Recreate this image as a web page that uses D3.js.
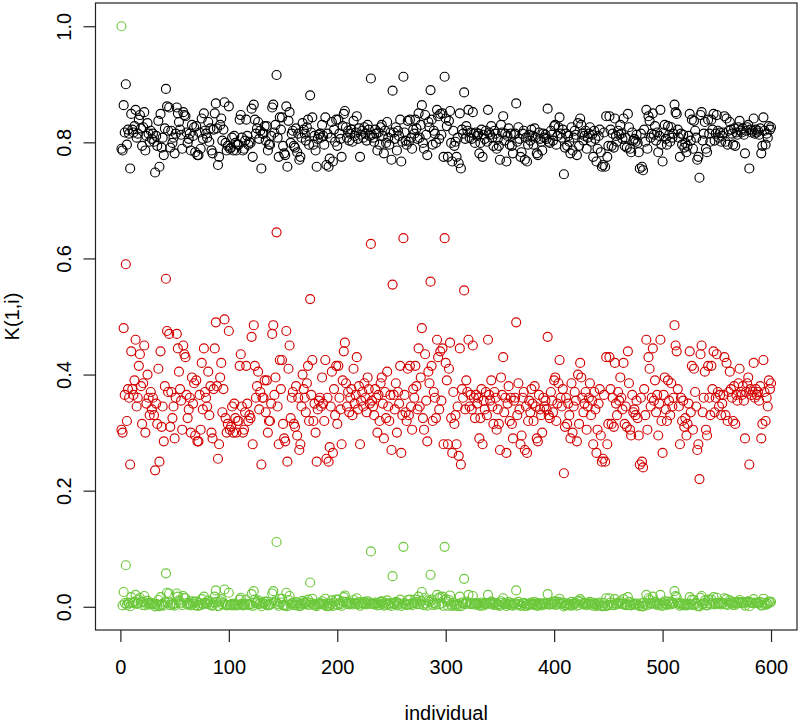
<!DOCTYPE html>
<html><head><meta charset="utf-8">
<script src="https://cdn.jsdelivr.net/npm/d3@7"></script>
<style>
html,body{margin:0;padding:0;background:#fff;}
svg text{font-family:"Liberation Sans",Arial,Helvetica,sans-serif;}
</style></head>
<body>
<svg id="chart" width="799" height="725"></svg>
<script>
// ---- data ----
const xTickLabels = [0, 100, 200, 300, 400, 500, 600];
const yTickLabels = [0.0, 0.2, 0.4, 0.6, 0.8, 1.0];
const xTitle = "individual";
const yTitle = "K(1,i)";

const kBlack = [
0.789,0.786,0.864,0.817,0.900,0.796,0.822,0.815,0.755,0.849,
0.822,0.817,0.828,0.856,0.808,0.815,0.839,0.847,0.824,0.794,
0.826,0.852,0.786,0.811,0.833,0.815,0.801,0.820,0.806,0.815,
0.801,0.748,0.811,0.794,0.837,0.758,0.849,0.791,0.808,0.778,
0.824,0.892,0.862,0.820,0.860,0.791,0.820,0.799,0.808,0.781,
0.815,0.860,0.850,0.835,0.822,0.813,0.789,0.852,0.847,0.845,
0.817,0.799,0.806,0.815,0.786,0.830,0.811,0.826,0.783,0.828,
0.778,0.778,0.817,0.789,0.841,0.806,0.850,0.820,0.815,0.808,
0.835,0.801,0.824,0.786,0.781,0.822,0.850,0.867,0.824,0.761,
0.775,0.830,0.841,0.803,0.822,0.869,0.799,0.786,0.794,0.862,
0.789,0.791,0.808,0.786,0.811,0.799,0.786,0.796,0.796,0.839,
0.847,0.808,0.786,0.789,0.803,0.839,0.811,0.796,0.801,0.799,
0.858,0.775,0.865,0.839,0.815,0.824,0.835,0.806,0.820,0.755,
0.815,0.815,0.828,0.803,0.828,0.786,0.796,0.796,0.811,0.860,
0.865,0.817,0.830,0.916,0.808,0.775,0.843,0.822,0.843,0.794,
0.781,0.778,0.862,0.758,0.837,0.852,0.799,0.815,0.820,0.794,
0.791,0.824,0.783,0.815,0.770,0.775,0.808,0.833,0.822,0.815,
0.803,0.826,0.839,0.796,0.881,0.817,0.843,0.796,0.811,0.786,
0.758,0.806,0.813,0.815,0.808,0.830,0.811,0.796,0.843,0.761,
0.815,0.758,0.772,0.808,0.835,0.767,0.822,0.801,0.839,0.794,
0.839,0.815,0.806,0.775,0.828,0.849,0.854,0.826,0.808,0.820,
0.803,0.815,0.822,0.801,0.837,0.811,0.817,0.845,0.806,0.824,
0.775,0.813,0.820,0.808,0.826,0.815,0.803,0.830,0.822,0.811,
0.910,0.813,0.808,0.801,0.822,0.815,0.786,0.817,0.796,0.826,
0.830,0.811,0.781,0.820,0.799,0.835,0.808,0.796,0.817,0.770,
0.889,0.817,0.806,0.826,0.786,0.820,0.811,0.839,0.767,0.801,
0.913,0.817,0.803,0.796,0.837,0.801,0.839,0.808,0.789,0.822,
0.815,0.839,0.824,0.806,0.850,0.808,0.830,0.864,0.799,0.789,
0.847,0.813,0.778,0.835,0.826,0.890,0.839,0.796,0.820,0.815,
0.799,0.856,0.845,0.806,0.849,0.813,0.850,0.775,0.913,0.841,
0.828,0.775,0.837,0.854,0.799,0.767,0.820,0.794,0.801,0.775,
0.808,0.764,0.850,0.755,0.822,0.815,0.886,0.806,0.828,0.820,
0.856,0.808,0.817,0.806,0.852,0.815,0.799,0.817,0.811,0.815,
0.781,0.799,0.822,0.775,0.813,0.806,0.820,0.801,0.856,0.817,
0.813,0.828,0.808,0.794,0.820,0.815,0.789,0.806,0.794,0.770,
0.830,0.817,0.845,0.803,0.815,0.767,0.811,0.824,0.796,0.815,
0.794,0.781,0.813,0.815,0.867,0.801,0.826,0.806,0.775,0.783,
0.815,0.820,0.770,0.808,0.767,0.796,0.813,0.803,0.822,0.811,
0.796,0.824,0.808,0.781,0.778,0.817,0.806,0.801,0.786,0.815,
0.808,0.813,0.806,0.858,0.801,0.799,0.820,0.813,0.803,0.828,
0.830,0.796,0.811,0.826,0.843,0.815,0.808,0.822,0.745,0.791,
0.815,0.794,0.811,0.801,0.781,0.826,0.786,0.808,0.820,0.813,
0.778,0.833,0.794,0.841,0.830,0.815,0.803,0.811,0.820,0.789,
0.808,0.815,0.826,0.801,0.813,0.775,0.820,0.806,0.767,0.789,
0.811,0.822,0.783,0.758,0.761,0.817,0.758,0.845,0.775,0.794,
0.845,0.822,0.794,0.815,0.791,0.841,0.811,0.801,0.820,0.813,
0.830,0.815,0.806,0.841,0.794,0.808,0.791,0.849,0.826,0.789,
0.783,0.817,0.803,0.806,0.801,0.813,0.799,0.783,0.755,0.815,
0.758,0.752,0.822,0.801,0.856,0.789,0.845,0.837,0.808,0.815,
0.850,0.813,0.828,0.803,0.817,0.783,0.811,0.856,0.796,0.767,
0.817,0.830,0.806,0.796,0.828,0.813,0.801,0.826,0.808,0.815,
0.865,0.852,0.849,0.822,0.808,0.775,0.815,0.796,0.813,0.791,
0.799,0.783,0.794,0.811,0.849,0.803,0.839,0.789,0.837,0.820,
0.808,0.770,0.775,0.739,0.847,0.852,0.803,0.815,0.835,0.789,
0.783,0.839,0.815,0.801,0.839,0.822,0.849,0.803,0.815,0.847,
0.820,0.808,0.817,0.801,0.811,0.817,0.845,0.801,0.841,0.796,
0.820,0.835,0.822,0.815,0.796,0.824,0.794,0.817,0.813,0.826,
0.837,0.820,0.817,0.824,0.813,0.781,0.820,0.826,0.830,0.755,
0.822,0.817,0.820,0.841,0.815,0.822,0.817,0.820,0.813,0.824,
0.781,0.794,0.843,0.820,0.796,0.815,0.808,0.828,0.822,0.826
];

const kRed = [
0.305,0.300,0.480,0.365,0.590,0.320,0.375,0.360,0.245,0.440,
0.375,0.365,0.390,0.460,0.345,0.360,0.415,0.435,0.380,0.315,
0.385,0.450,0.300,0.350,0.400,0.360,0.330,0.370,0.340,0.360,
0.330,0.235,0.350,0.315,0.410,0.250,0.440,0.310,0.345,0.285,
0.380,0.565,0.475,0.370,0.470,0.310,0.370,0.325,0.345,0.290,
0.360,0.470,0.445,0.405,0.375,0.355,0.305,0.450,0.435,0.430,
0.365,0.325,0.340,0.360,0.300,0.395,0.350,0.385,0.295,0.390,
0.285,0.285,0.365,0.305,0.420,0.340,0.445,0.370,0.360,0.345,
0.405,0.330,0.380,0.300,0.290,0.375,0.445,0.490,0.380,0.255,
0.280,0.395,0.420,0.335,0.375,0.495,0.325,0.300,0.315,0.475,
0.305,0.310,0.345,0.300,0.350,0.325,0.300,0.320,0.320,0.415,
0.435,0.345,0.300,0.305,0.335,0.415,0.350,0.320,0.330,0.325,
0.465,0.280,0.485,0.415,0.360,0.380,0.405,0.340,0.370,0.245,
0.360,0.360,0.390,0.335,0.390,0.300,0.320,0.320,0.350,0.470,
0.485,0.365,0.395,0.645,0.345,0.280,0.425,0.375,0.425,0.315,
0.290,0.285,0.475,0.250,0.410,0.450,0.325,0.360,0.370,0.315,
0.310,0.380,0.295,0.360,0.270,0.280,0.345,0.400,0.375,0.360,
0.335,0.385,0.415,0.320,0.530,0.365,0.425,0.320,0.350,0.300,
0.250,0.340,0.355,0.360,0.345,0.395,0.350,0.320,0.425,0.255,
0.360,0.250,0.275,0.345,0.405,0.265,0.375,0.330,0.415,0.315,
0.415,0.360,0.340,0.280,0.390,0.440,0.455,0.385,0.345,0.370,
0.335,0.360,0.375,0.330,0.410,0.350,0.365,0.430,0.340,0.380,
0.280,0.355,0.370,0.345,0.385,0.360,0.335,0.395,0.375,0.350,
0.625,0.355,0.345,0.330,0.375,0.360,0.300,0.365,0.320,0.385,
0.395,0.350,0.290,0.370,0.325,0.405,0.345,0.320,0.365,0.270,
0.555,0.365,0.340,0.385,0.300,0.370,0.350,0.415,0.265,0.330,
0.635,0.365,0.335,0.320,0.410,0.330,0.415,0.345,0.305,0.375,
0.360,0.415,0.380,0.340,0.445,0.345,0.395,0.480,0.325,0.305,
0.435,0.355,0.285,0.405,0.385,0.560,0.415,0.320,0.370,0.360,
0.325,0.460,0.430,0.340,0.440,0.355,0.445,0.280,0.635,0.420,
0.390,0.280,0.410,0.455,0.325,0.265,0.370,0.315,0.330,0.280,
0.345,0.260,0.445,0.245,0.375,0.360,0.545,0.340,0.390,0.370,
0.460,0.345,0.365,0.340,0.450,0.360,0.325,0.365,0.350,0.360,
0.290,0.325,0.375,0.280,0.355,0.340,0.370,0.330,0.460,0.365,
0.355,0.390,0.345,0.315,0.370,0.360,0.305,0.340,0.315,0.270,
0.395,0.365,0.430,0.335,0.360,0.265,0.350,0.380,0.320,0.360,
0.315,0.290,0.355,0.360,0.490,0.330,0.385,0.340,0.280,0.295,
0.360,0.370,0.270,0.345,0.265,0.320,0.355,0.335,0.375,0.350,
0.320,0.380,0.345,0.290,0.285,0.365,0.340,0.330,0.300,0.360,
0.345,0.355,0.340,0.465,0.330,0.325,0.370,0.355,0.335,0.390,
0.395,0.320,0.350,0.385,0.425,0.360,0.345,0.375,0.230,0.310,
0.360,0.315,0.350,0.330,0.290,0.385,0.300,0.345,0.370,0.355,
0.285,0.400,0.315,0.420,0.395,0.360,0.335,0.350,0.370,0.305,
0.345,0.360,0.385,0.330,0.355,0.280,0.370,0.340,0.265,0.305,
0.350,0.375,0.295,0.250,0.255,0.365,0.250,0.430,0.280,0.315,
0.430,0.375,0.315,0.360,0.310,0.420,0.350,0.330,0.370,0.355,
0.395,0.360,0.340,0.420,0.315,0.345,0.310,0.440,0.385,0.305,
0.295,0.365,0.335,0.340,0.330,0.355,0.325,0.295,0.245,0.360,
0.250,0.240,0.375,0.330,0.460,0.305,0.430,0.410,0.345,0.360,
0.445,0.355,0.390,0.335,0.365,0.295,0.350,0.460,0.320,0.265,
0.365,0.395,0.340,0.320,0.390,0.355,0.330,0.385,0.345,0.360,
0.485,0.450,0.440,0.375,0.345,0.280,0.360,0.320,0.355,0.310,
0.325,0.295,0.315,0.350,0.440,0.335,0.415,0.305,0.410,0.370,
0.345,0.270,0.280,0.220,0.435,0.450,0.335,0.360,0.405,0.305,
0.295,0.415,0.360,0.330,0.415,0.375,0.440,0.335,0.360,0.435,
0.370,0.345,0.365,0.330,0.350,0.365,0.430,0.330,0.420,0.320,
0.370,0.405,0.375,0.360,0.320,0.380,0.315,0.365,0.355,0.385,
0.410,0.370,0.365,0.380,0.355,0.290,0.370,0.385,0.395,0.245,
0.375,0.365,0.370,0.420,0.360,0.375,0.365,0.370,0.355,0.380,
0.290,0.315,0.425,0.370,0.320,0.360,0.345,0.390,0.375,0.385
];

const kGreen = [
1.0000,0.0024,0.0255,0.0065,0.0715,0.0034,0.0074,0.0060,0.0009,0.0165,
0.0074,0.0065,0.0090,0.0206,0.0049,0.0060,0.0123,0.0156,0.0079,0.0031,
0.0085,0.0185,0.0024,0.0053,0.0102,0.0060,0.0039,0.0069,0.0045,0.0060,
0.0039,0.0007,0.0053,0.0031,0.0116,0.0010,0.0165,0.0029,0.0049,0.0019,
0.0079,0.0576,0.0242,0.0069,0.0229,0.0029,0.0069,0.0036,0.0049,0.0021,
0.0060,0.0229,0.0175,0.0109,0.0074,0.0056,0.0026,0.0185,0.0156,0.0147,
0.0065,0.0036,0.0045,0.0060,0.0024,0.0096,0.0053,0.0085,0.0022,0.0090,
0.0019,0.0019,0.0065,0.0026,0.0131,0.0045,0.0175,0.0069,0.0060,0.0049,
0.0109,0.0039,0.0079,0.0024,0.0021,0.0074,0.0175,0.0282,0.0079,0.0011,
0.0017,0.0096,0.0131,0.0042,0.0074,0.0297,0.0036,0.0024,0.0031,0.0242,
0.0026,0.0029,0.0049,0.0024,0.0053,0.0036,0.0024,0.0034,0.0034,0.0123,
0.0156,0.0049,0.0024,0.0026,0.0042,0.0123,0.0053,0.0034,0.0039,0.0036,
0.0218,0.0017,0.0269,0.0123,0.0060,0.0079,0.0109,0.0045,0.0069,0.0009,
0.0060,0.0060,0.0090,0.0042,0.0090,0.0024,0.0034,0.0034,0.0053,0.0229,
0.0269,0.0065,0.0096,0.1116,0.0049,0.0017,0.0139,0.0074,0.0139,0.0031,
0.0021,0.0019,0.0242,0.0010,0.0116,0.0185,0.0036,0.0060,0.0069,0.0031,
0.0029,0.0079,0.0022,0.0060,0.0014,0.0017,0.0049,0.0102,0.0074,0.0060,
0.0042,0.0085,0.0123,0.0034,0.0418,0.0065,0.0139,0.0034,0.0053,0.0024,
0.0010,0.0045,0.0056,0.0060,0.0049,0.0096,0.0053,0.0034,0.0139,0.0011,
0.0060,0.0010,0.0016,0.0049,0.0109,0.0013,0.0074,0.0039,0.0123,0.0031,
0.0123,0.0060,0.0045,0.0017,0.0090,0.0165,0.0195,0.0085,0.0049,0.0069,
0.0042,0.0060,0.0074,0.0039,0.0116,0.0053,0.0065,0.0147,0.0045,0.0079,
0.0017,0.0056,0.0069,0.0049,0.0085,0.0060,0.0042,0.0096,0.0074,0.0053,
0.0954,0.0056,0.0049,0.0039,0.0074,0.0060,0.0024,0.0065,0.0034,0.0085,
0.0096,0.0053,0.0021,0.0069,0.0036,0.0109,0.0049,0.0034,0.0065,0.0014,
0.0527,0.0065,0.0045,0.0085,0.0024,0.0069,0.0053,0.0123,0.0013,0.0039,
0.1032,0.0065,0.0042,0.0034,0.0116,0.0039,0.0123,0.0049,0.0026,0.0074,
0.0060,0.0123,0.0079,0.0045,0.0175,0.0049,0.0096,0.0255,0.0036,0.0026,
0.0156,0.0056,0.0019,0.0109,0.0085,0.0551,0.0123,0.0034,0.0069,0.0060,
0.0036,0.0206,0.0147,0.0045,0.0165,0.0056,0.0175,0.0017,0.1032,0.0131,
0.0090,0.0017,0.0116,0.0195,0.0036,0.0013,0.0069,0.0031,0.0039,0.0017,
0.0049,0.0012,0.0175,0.0009,0.0074,0.0060,0.0481,0.0045,0.0090,0.0069,
0.0206,0.0049,0.0065,0.0045,0.0185,0.0060,0.0036,0.0065,0.0053,0.0060,
0.0021,0.0036,0.0074,0.0017,0.0056,0.0045,0.0069,0.0039,0.0206,0.0065,
0.0056,0.0090,0.0049,0.0031,0.0069,0.0060,0.0026,0.0045,0.0031,0.0014,
0.0096,0.0065,0.0147,0.0042,0.0060,0.0013,0.0053,0.0079,0.0034,0.0060,
0.0031,0.0021,0.0056,0.0060,0.0282,0.0039,0.0085,0.0045,0.0017,0.0022,
0.0060,0.0069,0.0014,0.0049,0.0013,0.0034,0.0056,0.0042,0.0074,0.0053,
0.0034,0.0079,0.0049,0.0021,0.0019,0.0065,0.0045,0.0039,0.0024,0.0060,
0.0049,0.0056,0.0045,0.0218,0.0039,0.0036,0.0069,0.0056,0.0042,0.0090,
0.0096,0.0034,0.0053,0.0085,0.0139,0.0060,0.0049,0.0074,0.0006,0.0029,
0.0060,0.0031,0.0053,0.0039,0.0021,0.0085,0.0024,0.0049,0.0069,0.0056,
0.0019,0.0102,0.0031,0.0131,0.0096,0.0060,0.0042,0.0053,0.0069,0.0026,
0.0049,0.0060,0.0085,0.0039,0.0056,0.0017,0.0069,0.0045,0.0013,0.0026,
0.0053,0.0074,0.0022,0.0010,0.0011,0.0065,0.0010,0.0147,0.0017,0.0031,
0.0147,0.0074,0.0031,0.0060,0.0029,0.0131,0.0053,0.0039,0.0069,0.0056,
0.0096,0.0060,0.0045,0.0131,0.0031,0.0049,0.0029,0.0165,0.0085,0.0026,
0.0022,0.0065,0.0042,0.0045,0.0039,0.0056,0.0036,0.0022,0.0009,0.0060,
0.0010,0.0008,0.0074,0.0039,0.0206,0.0026,0.0147,0.0116,0.0049,0.0060,
0.0175,0.0056,0.0090,0.0042,0.0065,0.0022,0.0053,0.0206,0.0034,0.0013,
0.0065,0.0096,0.0045,0.0034,0.0090,0.0056,0.0039,0.0085,0.0049,0.0060,
0.0269,0.0185,0.0165,0.0074,0.0049,0.0017,0.0060,0.0034,0.0056,0.0029,
0.0036,0.0022,0.0031,0.0053,0.0165,0.0042,0.0123,0.0026,0.0116,0.0069,
0.0049,0.0014,0.0017,0.0005,0.0156,0.0185,0.0042,0.0060,0.0109,0.0026,
0.0022,0.0123,0.0060,0.0039,0.0123,0.0074,0.0165,0.0042,0.0060,0.0156,
0.0069,0.0049,0.0065,0.0039,0.0053,0.0065,0.0147,0.0039,0.0131,0.0034,
0.0069,0.0109,0.0074,0.0060,0.0034,0.0079,0.0031,0.0065,0.0056,0.0085,
0.0116,0.0069,0.0065,0.0079,0.0056,0.0021,0.0069,0.0085,0.0096,0.0009,
0.0074,0.0065,0.0069,0.0131,0.0060,0.0074,0.0065,0.0069,0.0056,0.0079,
0.0021,0.0031,0.0139,0.0069,0.0034,0.0060,0.0049,0.0090,0.0074,0.0085
];

const seriesList = [
  {name: "black", values: kBlack, color: "#000000"},
  {name: "red",   values: kRed,   color: "#D40000"},
  {name: "green", values: kGreen, color: "#6BC83A"}
];

// ---- layout ----
const svg = d3.select("#chart");
const plot = {left: 95.5, right: 797, top: 3, bottom: 630};

const nPts = kBlack.length;
const xPad = (nPts - 1) * 0.04;
const x = d3.scaleLinear().domain([1 - xPad, nPts + xPad]).range([plot.left, plot.right]);
const y = d3.scaleLinear().domain([-0.04, 1.04]).range([plot.bottom, plot.top]);

// points
seriesList.forEach(s => {
  svg.append("g").selectAll("circle")
    .data(s.values)
    .join("circle")
    .attr("cx", (d, i) => x(i + 1))
    .attr("cy", d => y(d))
    .attr("r", 4.5)
    .attr("fill", "none")
    .attr("stroke", s.color)
    .attr("stroke-width", 1.15);
});

// box
svg.append("rect")
  .attr("x", plot.left).attr("y", plot.top)
  .attr("width", plot.right - plot.left).attr("height", plot.bottom - plot.top)
  .attr("fill", "none").attr("stroke", "#222").attr("stroke-width", 1.2);

// x axis
const xAxis = svg.append("g")
  .attr("transform", `translate(0,${plot.bottom})`)
  .call(d3.axisBottom(x).tickValues(xTickLabels).tickSize(12).tickPadding(18).tickFormat(d3.format("d")));
xAxis.select(".domain").remove();
xAxis.selectAll("line").attr("stroke", "#222").attr("stroke-width", 1.2);
xAxis.selectAll("text").attr("font-size", 20).attr("fill", "#000")
  .style("font-family", "'Liberation Sans', Arial, sans-serif");

// y axis
const yAxis = svg.append("g")
  .attr("transform", `translate(${plot.left},0)`)
  .call(d3.axisLeft(y).tickValues(yTickLabels).tickSize(12).tickFormat(d3.format(".1f")));
yAxis.select(".domain").remove();
yAxis.selectAll("line").attr("stroke", "#222").attr("stroke-width", 1.2);
yAxis.selectAll("text")
  .attr("x", null).attr("dy", null)
  .attr("text-anchor", "middle")
  .attr("transform", "translate(-25,0) rotate(-90)")
  .attr("font-size", 20).attr("fill", "#000")
  .style("font-family", "'Liberation Sans', Arial, sans-serif");

// titles
svg.append("text")
  .attr("x", (plot.left + plot.right) / 2).attr("y", 720)
  .attr("text-anchor", "middle").attr("font-size", 20).attr("fill", "#000")
  .text(xTitle);
svg.append("text")
  .attr("transform", `translate(19,${(plot.top + plot.bottom) / 2}) rotate(-90)`)
  .attr("text-anchor", "middle").attr("font-size", 20).attr("fill", "#000")
  .text(yTitle);
</script>
</body></html>
